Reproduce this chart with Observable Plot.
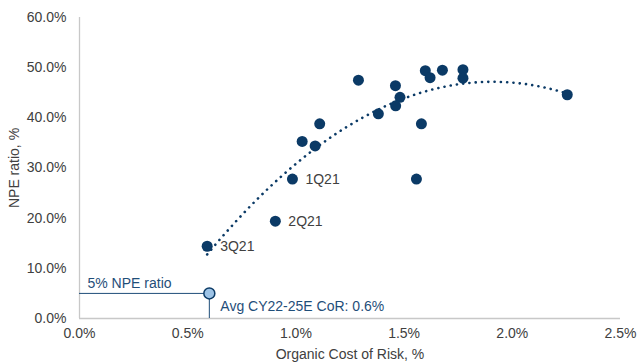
<!DOCTYPE html>
<html>
<head>
<meta charset="utf-8">
<script src="https://cdn.jsdelivr.net/npm/d3@7"></script>
<script src="https://cdn.jsdelivr.net/npm/@observablehq/plot@0.6"></script>
<style>
  html, body { margin: 0; padding: 0; background: #fff; }
  #chart svg { display: block; }
</style>
</head>
<body>
<div id="chart"></div>
<script>
// Quarterly observations: organic cost of risk (%) vs NPE ratio (%)
const costOfRisk = [0.59, 0.905, 0.984, 1.029, 1.089, 1.110, 1.289, 1.381, 1.460, 1.481, 1.461,
                    1.580, 1.557, 1.598, 1.620, 1.677, 1.772, 1.772, 2.254];
const npeRatio   = [14.4, 19.4, 27.8, 35.3, 34.4, 38.8, 47.5, 40.8, 46.4, 44.1, 42.4,
                    38.8, 27.8, 49.4, 48.0, 49.5, 49.6, 47.9, 44.6];
const quarterLabels = ["3Q21", "2Q21", "1Q21", "", "", "", "", "", "", "", "",
                       "", "", "", "", "", "", "", ""];

// Forward-looking marker
const avgCor = 0.6;      // Avg CY22-25E CoR, %
const targetNpe = 5;     // NPE ratio, %

const xTicks = [0, 0.5, 1.0, 1.5, 2.0, 2.5];
const yTicks = [0, 10, 20, 30, 40, 50, 60];

const points = costOfRisk.map((x, i) => ({x, y: npeRatio[i], label: quarterLabels[i]}));

// Second-order polynomial trendline (least squares) over the observed range
function quadFit(xs, ys) {
  let s = [0, 0, 0, 0, 0], t = [0, 0, 0];
  xs.forEach((x, i) => {
    let p = 1;
    for (let k = 0; k < 5; k++) { s[k] += p; if (k < 3) t[k] += p * ys[i]; p *= x; }
  });
  const A = [[s[0], s[1], s[2], t[0]], [s[1], s[2], s[3], t[1]], [s[2], s[3], s[4], t[2]]];
  for (let c = 0; c < 3; c++) {
    for (let r = c + 1; r < 3; r++) {
      const f = A[r][c] / A[c][c];
      for (let k = c; k < 4; k++) A[r][k] -= f * A[c][k];
    }
  }
  const b = [0, 0, 0];
  for (let r = 2; r >= 0; r--) {
    let v = A[r][3];
    for (let k = r + 1; k < 3; k++) v -= A[r][k] * b[k];
    b[r] = v / A[r][r];
  }
  return x => b[0] + b[1] * x + b[2] * x * x;
}
const fit = quadFit(costOfRisk, npeRatio);
const xMin = d3.min(costOfRisk), xMax = d3.max(costOfRisk);
const trend = d3.range(0, 201).map(i => {
  const x = xMin + (xMax - xMin) * i / 200;
  return {x, y: fit(x)};
});

const navy = "#0b3a66";
const annot = "#1f4e79";
const pct = d => d.toFixed(1) + "%";

const chart = Plot.plot({
  width: 637,
  height: 362,
  marginLeft: 79,
  marginRight: 17,
  marginTop: 17,
  marginBottom: 44,
  style: {fontFamily: "'Liberation Sans', Arial, sans-serif", fontSize: "14px", color: "#404040", background: "#fff"},
  x: {domain: [0, 2.5]},
  y: {domain: [0, 60]},
  marks: [
    Plot.ruleY([0], {stroke: "#c8c8c8", strokeWidth: 1.3}),
    Plot.ruleX([0], {stroke: "#c8c8c8", strokeWidth: 1.3}),
    Plot.axisX({ticks: xTicks, tickFormat: pct, tickSize: 0, tickPadding: 10, fontSize: 14,
                label: "Organic Cost of Risk, %", labelAnchor: "center", labelArrow: "none", labelOffset: 40}),
    Plot.axisY({ticks: yTicks, tickFormat: pct, tickSize: 0, tickPadding: 13, fontSize: 14,
                label: "NPE ratio, %", labelAnchor: "center", labelArrow: "none", labelOffset: 70}),
    Plot.line(trend, {x: "x", y: "y", stroke: navy, strokeWidth: 2.6, strokeLinecap: "round",
                      strokeDasharray: "0.1 6.2"}),
    Plot.dot(points, {x: "x", y: "y", r: 5.5, fill: navy, stroke: "none"}),
    Plot.text(points, {x: "x", y: "y", text: "label", dx: 13, textAnchor: "start", fill: "#404040", fontSize: 14}),
    // Target marker with its guide lines
    Plot.ruleY([targetNpe], {x1: 0, x2: avgCor, stroke: annot, strokeWidth: 1}),
    Plot.ruleX([avgCor], {y1: 0, y2: targetNpe, stroke: annot, strokeWidth: 1}),
    Plot.dot([{x: avgCor, y: targetNpe}], {x: "x", y: "y", r: 5.5, fill: "#9dc3e6", stroke: navy, strokeWidth: 1.5}),
    Plot.text([{x: 0, y: targetNpe}], {x: "x", y: "y", text: () => `${targetNpe}% NPE ratio`, dx: 8, dy: -10,
               textAnchor: "start", fill: annot, fontSize: 14}),
    Plot.text([{x: avgCor, y: targetNpe}], {x: "x", y: "y", text: () => `Avg CY22-25E CoR: ${avgCor}%`, dx: 11, dy: 13,
               textAnchor: "start", fill: annot, fontSize: 14})
  ]
});
document.getElementById("chart").appendChild(chart);
</script>
</body>
</html>
